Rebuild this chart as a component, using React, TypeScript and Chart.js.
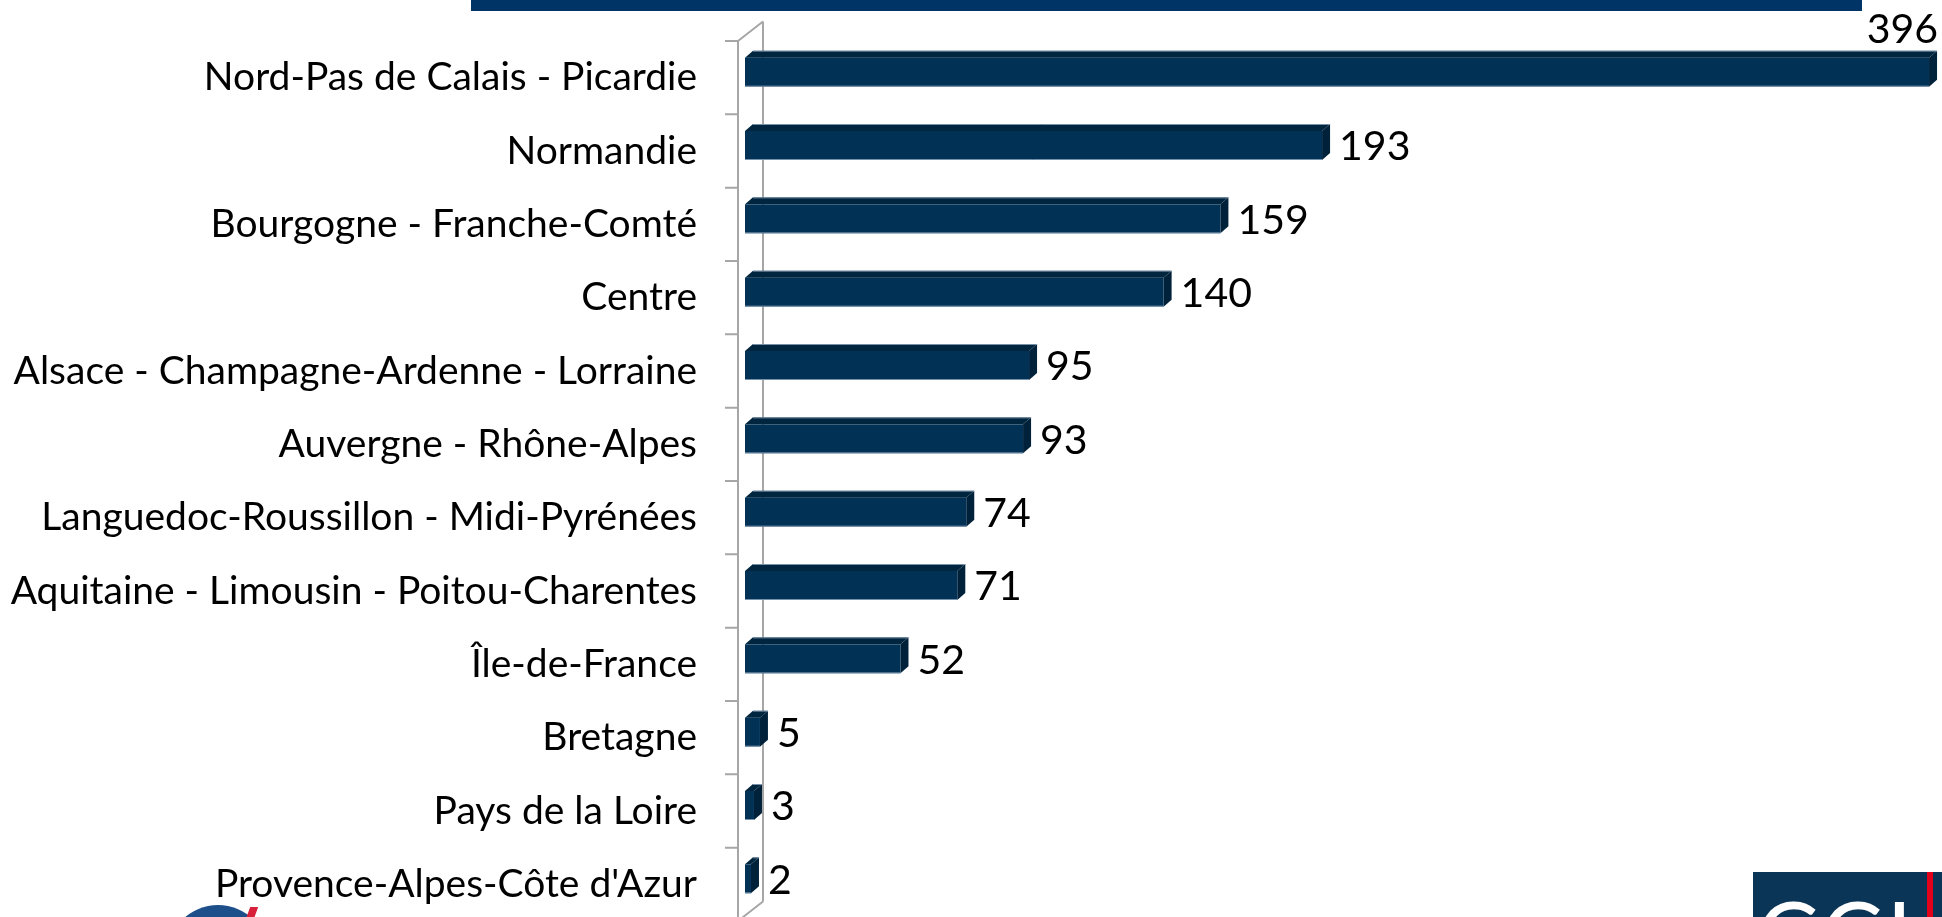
import React, { useEffect, useRef } from 'react';
import { Chart, registerables } from 'chart.js';

Chart.register(...registerables);

const categories = [
  'Nord-Pas de Calais - Picardie',
  'Normandie',
  'Bourgogne - Franche-Comté',
  'Centre',
  'Alsace - Champagne-Ardenne - Lorraine',
  'Auvergne - Rhône-Alpes',
  'Languedoc-Roussillon - Midi-Pyrénées',
  'Aquitaine - Limousin - Poitou-Charentes',
  'Île-de-France',
  'Bretagne',
  'Pays de la Loire',
  "Provence-Alpes-Côte d'Azur",
];
const values = [396, 193, 159, 140, 95, 93, 74, 71, 52, 5, 3, 2];
const xMin = 0;
const xMax = 400;

const FONT = 'Lato, "Open Sans", sans-serif';
const LABEL_SIZE = 39;
const VALUE_SIZE = 41;

// 3D geometry
const BAR_DX = 8;
const BAR_DY = 7;
const BAR_SHIFT = -5.5;
const WALL_OFFSET = 7;
const WALL_DX = 25;
const WALL_DY = 19.5;

const threeD = {
  id: 'threeD',
  beforeDatasetsDraw(chart: any) {
    const { ctx, chartArea } = chart;
    const yScale = chart.scales.y;
    const frontX = chartArea.left - WALL_OFFSET;
    const backX = frontX + WALL_DX;
    const top = chartArea.top;
    const bottom = chartArea.bottom;
    ctx.save();
    ctx.strokeStyle = '#a6a6a6';
    ctx.lineWidth = 2;
    ctx.beginPath();
    ctx.moveTo(frontX, top);
    ctx.lineTo(frontX, bottom);
    ctx.moveTo(backX, top - WALL_DY);
    ctx.lineTo(backX, bottom - WALL_DY);
    ctx.moveTo(frontX, top);
    ctx.lineTo(backX, top - WALL_DY);
    ctx.moveTo(frontX, bottom);
    ctx.lineTo(backX, bottom - WALL_DY);
    const n = categories.length;
    const step = (bottom - top) / n;
    for (let i = 0; i <= n; i++) {
      const yy = i < n ? yScale.getPixelForValue(i) - step / 2 : yScale.getPixelForValue(n - 1) + step / 2;
      ctx.moveTo(frontX - 13, yy);
      ctx.lineTo(frontX, yy);
    }
    ctx.stroke();

    const meta = chart.getDatasetMeta(0);
    meta.data.forEach((el: any) => {
      const x0 = el.base;
      const x1 = el.x;
      const h = el.height;
      const cy = el.y + BAR_SHIFT;
      const yt = cy - h / 2;
      const yb = cy + h / 2;
      // top face
      ctx.fillStyle = '#00263f';
      ctx.beginPath();
      ctx.moveTo(x0, yt);
      ctx.lineTo(x0 + BAR_DX, yt - BAR_DY);
      ctx.lineTo(x1 + BAR_DX, yt - BAR_DY);
      ctx.lineTo(x1, yt);
      ctx.closePath();
      ctx.fill();
      // side face
      ctx.fillStyle = '#00213a';
      ctx.beginPath();
      ctx.moveTo(x1, yt);
      ctx.lineTo(x1 + BAR_DX, yt - BAR_DY);
      ctx.lineTo(x1 + BAR_DX, yb - BAR_DY);
      ctx.lineTo(x1, yb);
      ctx.closePath();
      ctx.fill();
      // front face
      ctx.fillStyle = '#013256';
      ctx.fillRect(x0, yt, x1 - x0, h);
      // light edges
      ctx.strokeStyle = 'rgba(150,170,195,0.8)';
      ctx.lineWidth = 1;
      ctx.beginPath();
      ctx.moveTo(x0 + BAR_DX, yt - BAR_DY + 0.5);
      ctx.lineTo(x1 + BAR_DX, yt - BAR_DY + 0.5);
      ctx.moveTo(x0, yb - 0.5);
      ctx.lineTo(x1, yb - 0.5);
      ctx.stroke();
    });
    ctx.restore();
    return false;
  },
  afterDraw(chart: any) {
    const { ctx } = chart;
    const meta = chart.getDatasetMeta(0);
    ctx.save();
    ctx.font = `${VALUE_SIZE}px ${FONT}`;
    ctx.fillStyle = '#000000';
    ctx.textBaseline = 'alphabetic';
    meta.data.forEach((el: any, i: number) => {
      const txt = String(values[i]);
      const w = ctx.measureText(txt).width;
      const cy = el.y + BAR_SHIFT;
      const tx = el.x + BAR_DX + 9;
      if (tx + w > chart.width - 2) {
        ctx.textAlign = 'right';
        const topFace = cy - el.height / 2 - BAR_DY;
        ctx.fillText(txt, el.x + BAR_DX + 1, topFace - 8);
      } else {
        ctx.textAlign = 'left';
        ctx.fillText(txt, tx, cy + VALUE_SIZE * 0.36);
      }
    });
    ctx.restore();
  },
};

export default function App() {
  const ref = useRef<HTMLCanvasElement | null>(null);

  useEffect(() => {
    document.body.style.margin = '0';
    document.body.style.overflow = 'hidden';
    let chart: Chart | null = null;
    let cancelled = false;
    const make = () => {
      if (cancelled || !ref.current) return;
      chart = new Chart(ref.current, {
        type: 'bar',
        data: {
          labels: categories,
          datasets: [
            {
              data: values,
              backgroundColor: '#013256',
              barThickness: 29,
            },
          ],
        },
        options: {
          indexAxis: 'y',
          responsive: false,
          animation: false,
          devicePixelRatio: 1,
          layout: { padding: { left: 0, top: 41, right: 1, bottom: 9 } },
          plugins: {
            legend: { display: false },
            tooltip: { enabled: false },
            title: { display: false },
          },
          scales: {
            x: { display: false, min: xMin, max: xMax },
            y: {
              afterFit: (s: any) => {
                s.width = 745;
                s.paddingTop = 0;
                s.paddingBottom = 0;
              },
              grid: { display: false, drawTicks: false },
              border: { display: false },
              ticks: {
                padding: 48,
                color: '#000000',
                font: { family: FONT, size: LABEL_SIZE },
              },
            },
          },
        },
        plugins: [threeD],
      } as any);
    };
    const fontsP = (document as any).fonts
      ? Promise.all([
          (document as any).fonts.load(`${LABEL_SIZE}px Lato`),
          (document as any).fonts.load(`${VALUE_SIZE}px Lato`),
        ]).catch(() => null)
      : Promise.resolve(null);
    fontsP.then(make);
    return () => {
      cancelled = true;
      if (chart) chart.destroy();
    };
  }, []);

  return (
    <div style={{ position: 'relative', width: 1942, height: 917, overflow: 'hidden', background: '#ffffff' }}>
      <div style={{ position: 'absolute', left: 471, top: 0, width: 1391, height: 11, background: '#003466' }} />
      <canvas ref={ref} width={1942} height={930} style={{ position: 'absolute', left: 0, top: 0, width: 1942, height: 930 }} />
      <div
        style={{
          position: 'absolute',
          left: 167,
          top: 905,
          width: 102,
          height: 102,
          borderRadius: '50%',
          background: '#1d4f8a',
        }}
      />
      <div style={{ position: 'absolute', left: 248, top: 907, width: 8, height: 12, background: '#d9203a', transform: 'skewX(-20deg)' }} />
      <div
        style={{
          position: 'absolute',
          left: 1753,
          top: 872,
          width: 189,
          height: 60,
          background: '#0b3556',
          overflow: 'hidden',
        }}
      >
        <div style={{ position: 'absolute', left: 174, top: 0, width: 6, height: 60, background: '#e3001b' }} />
        <div
          style={{
            position: 'absolute',
            left: 4,
            top: 14,
            color: '#ffffff',
            fontFamily: FONT,
            fontSize: 92,
            lineHeight: '92px',
            letterSpacing: 4,
          }}
        >
          CCI
        </div>
      </div>
    </div>
  );
}
